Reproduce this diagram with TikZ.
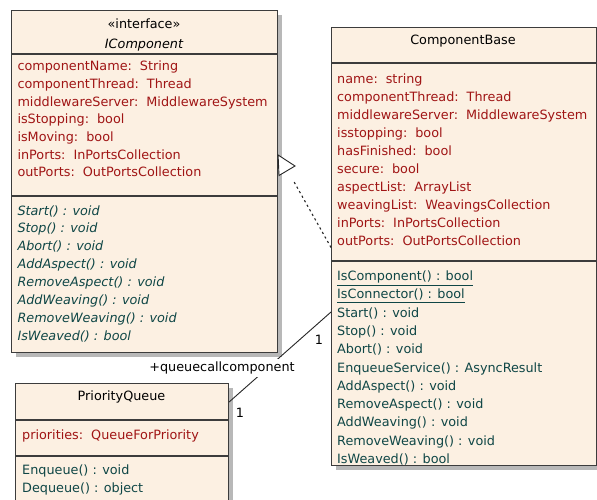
\documentclass[tikz,border=0pt]{standalone}
\usepackage{fontspec}
\setmainfont{DejaVu Sans}
\usetikzlibrary{shadows}
\definecolor{boxfill}{HTML}{FCF0E2}
\definecolor{boxline}{HTML}{3C3C3C}
\definecolor{attrred}{HTML}{A01515}
\definecolor{methteal}{HTML}{0F4646}
\newcommand\gp{\hspace{8pt}}
\newcommand\fs{\fontsize{12.8}{14}\selectfont}
\begin{document}
\begin{tikzpicture}[x=1pt,y=-1pt,
 umlbox/.style={draw=boxline, line width=1.1pt, fill=boxfill, inner sep=0pt, anchor=north west,
   drop shadow={shadow xshift=4pt, shadow yshift=-4pt, fill=black!28, opacity=1}},
 txt/.style={anchor=base west, inner sep=0pt, font=\fs},
 attr/.style={txt, text=attrred},
 meth/.style={txt, text=methteal},
 imeth/.style={meth, font=\fs\itshape},
 ttl/.style={anchor=base, inner sep=0pt, font=\fs, text=black},
 sep/.style={draw=boxline, line width=1.1pt},
 conn/.style={draw=black!85, line width=0.9pt},
 lbl/.style={inner sep=1pt, font=\fs, text=black},
]
\useasboundingbox (0,0) rectangle (597,500);
\clip (0,0) rectangle (597,500);
\fill[white] (0,0) rectangle (597,500);

% ---------------- IComponent ----------------
\node[umlbox, minimum width=266pt, minimum height=342pt] (ic) at (11,10) {};
\draw[sep] (ic.west |- 0,54) -- (ic.east |- 0,54);
\draw[sep] (ic.west |- 0,196) -- (ic.east |- 0,196);
\node[ttl] (icst) at (144,28.5) {«interface»};
\node[ttl, font=\fs\itshape] (icnm) at (144,48.3) {IComponent};
\foreach \t [count=\i from 0] in {componentName:\gp String, componentThread:\gp Thread,
  middlewareServer:\gp MiddlewareSystem, isStopping:\gp bool, isMoving:\gp bool,
  inPorts:\gp InPortsCollection, outPorts:\gp OutPortsCollection}
  \node[attr] (ica\i) at (17.3,{70.7+17.67*\i}) {\t};
\foreach \t [count=\i from 0] in {Start() : void, Stop() : void, Abort() : void,
  AddAspect() : void, RemoveAspect() : void, AddWeaving() : void,
  RemoveWeaving() : void, IsWeaved() : bool}
  \node[imeth] (icm\i) at (17.3,{215+17.86*\i}) {\t};

% ---------------- ComponentBase ----------------
\node[umlbox, minimum width=264.5pt, minimum height=438pt] (cb) at (331,27) {};
\draw[sep] (cb.west |- 0,63) -- (cb.east |- 0,63);
\draw[sep] (cb.west |- 0,261) -- (cb.east |- 0,261);
\node[ttl] (cbnm) at (463,45) {ComponentBase};
\foreach \t [count=\i from 0] in {name:\gp string, componentThread:\gp Thread,
  middlewareServer:\gp MiddlewareSystem, isstopping:\gp bool, hasFinished:\gp bool,
  secure:\gp bool, aspectList:\gp ArrayList, weavingList:\gp WeavingsCollection,
  inPorts:\gp InPortsCollection, outPorts:\gp OutPortsCollection}
  \node[attr] (cba\i) at (337,{83.5+18*\i}) {\t};
\node[meth] (cbm0) at (337,280.7) {\underline{IsComponent() : bool}};
\node[meth] (cbm1) at (337,298.96) {\underline{IsConnector() : bool}};
\foreach \t [count=\i from 2] in {Start() : void, Stop() : void, Abort() : void,
  EnqueueService() : AsyncResult, AddAspect() : void, RemoveAspect() : void,
  AddWeaving() : void, RemoveWeaving() : void, IsWeaved() : bool}
  \node[meth] (cbm\i) at (337,{280.7+18.26*\i}) {\t};

% ---------------- PriorityQueue ----------------
\node[umlbox, minimum width=213pt, minimum height=140pt] (pq) at (15,383) {};
\draw[sep] (pq.west |- 0,420) -- (pq.east |- 0,420);
\draw[sep] (pq.west |- 0,456) -- (pq.east |- 0,456);
\node[ttl] (pqnm) at (121.5,400.7) {PriorityQueue};
\node[attr] (pqa0) at (22,439) {priorities:\gp QueueForPriority};
\node[meth] (pqm0) at (22,474.5) {Enqueue() : void};
\node[meth] (pqm1) at (22,492.7) {Dequeue() : object};

% ---------------- Realization ----------------
\coordinate (rs) at (cb.west |- 0,247.5);
\coordinate (re) at (293,180);
\draw[conn, line width=1.1pt, dash pattern=on 2.2pt off 3pt] (rs) -- (re);
\coordinate (t1) at (ic.east |- 0,155);
\coordinate (t2) at (295,166);
\coordinate (t3) at (279,175.5);
\draw[conn, fill=white] (t1) -- (t2) -- (t3) -- cycle;

% ---------------- Association ----------------
\coordinate (as) at (cb.west |- 0,312);
\coordinate (ae) at (pq.east |- 0,402);
\draw[conn] (as) -- (ae);
\node[lbl, fill=white, minimum height=18pt] (qcc) at (222,368) {+queuecallcomponent};
\node[lbl] (m1) at (319,340) {1};
\node[lbl] (m2) at (240,413) {1};
\end{tikzpicture}
\end{document}
